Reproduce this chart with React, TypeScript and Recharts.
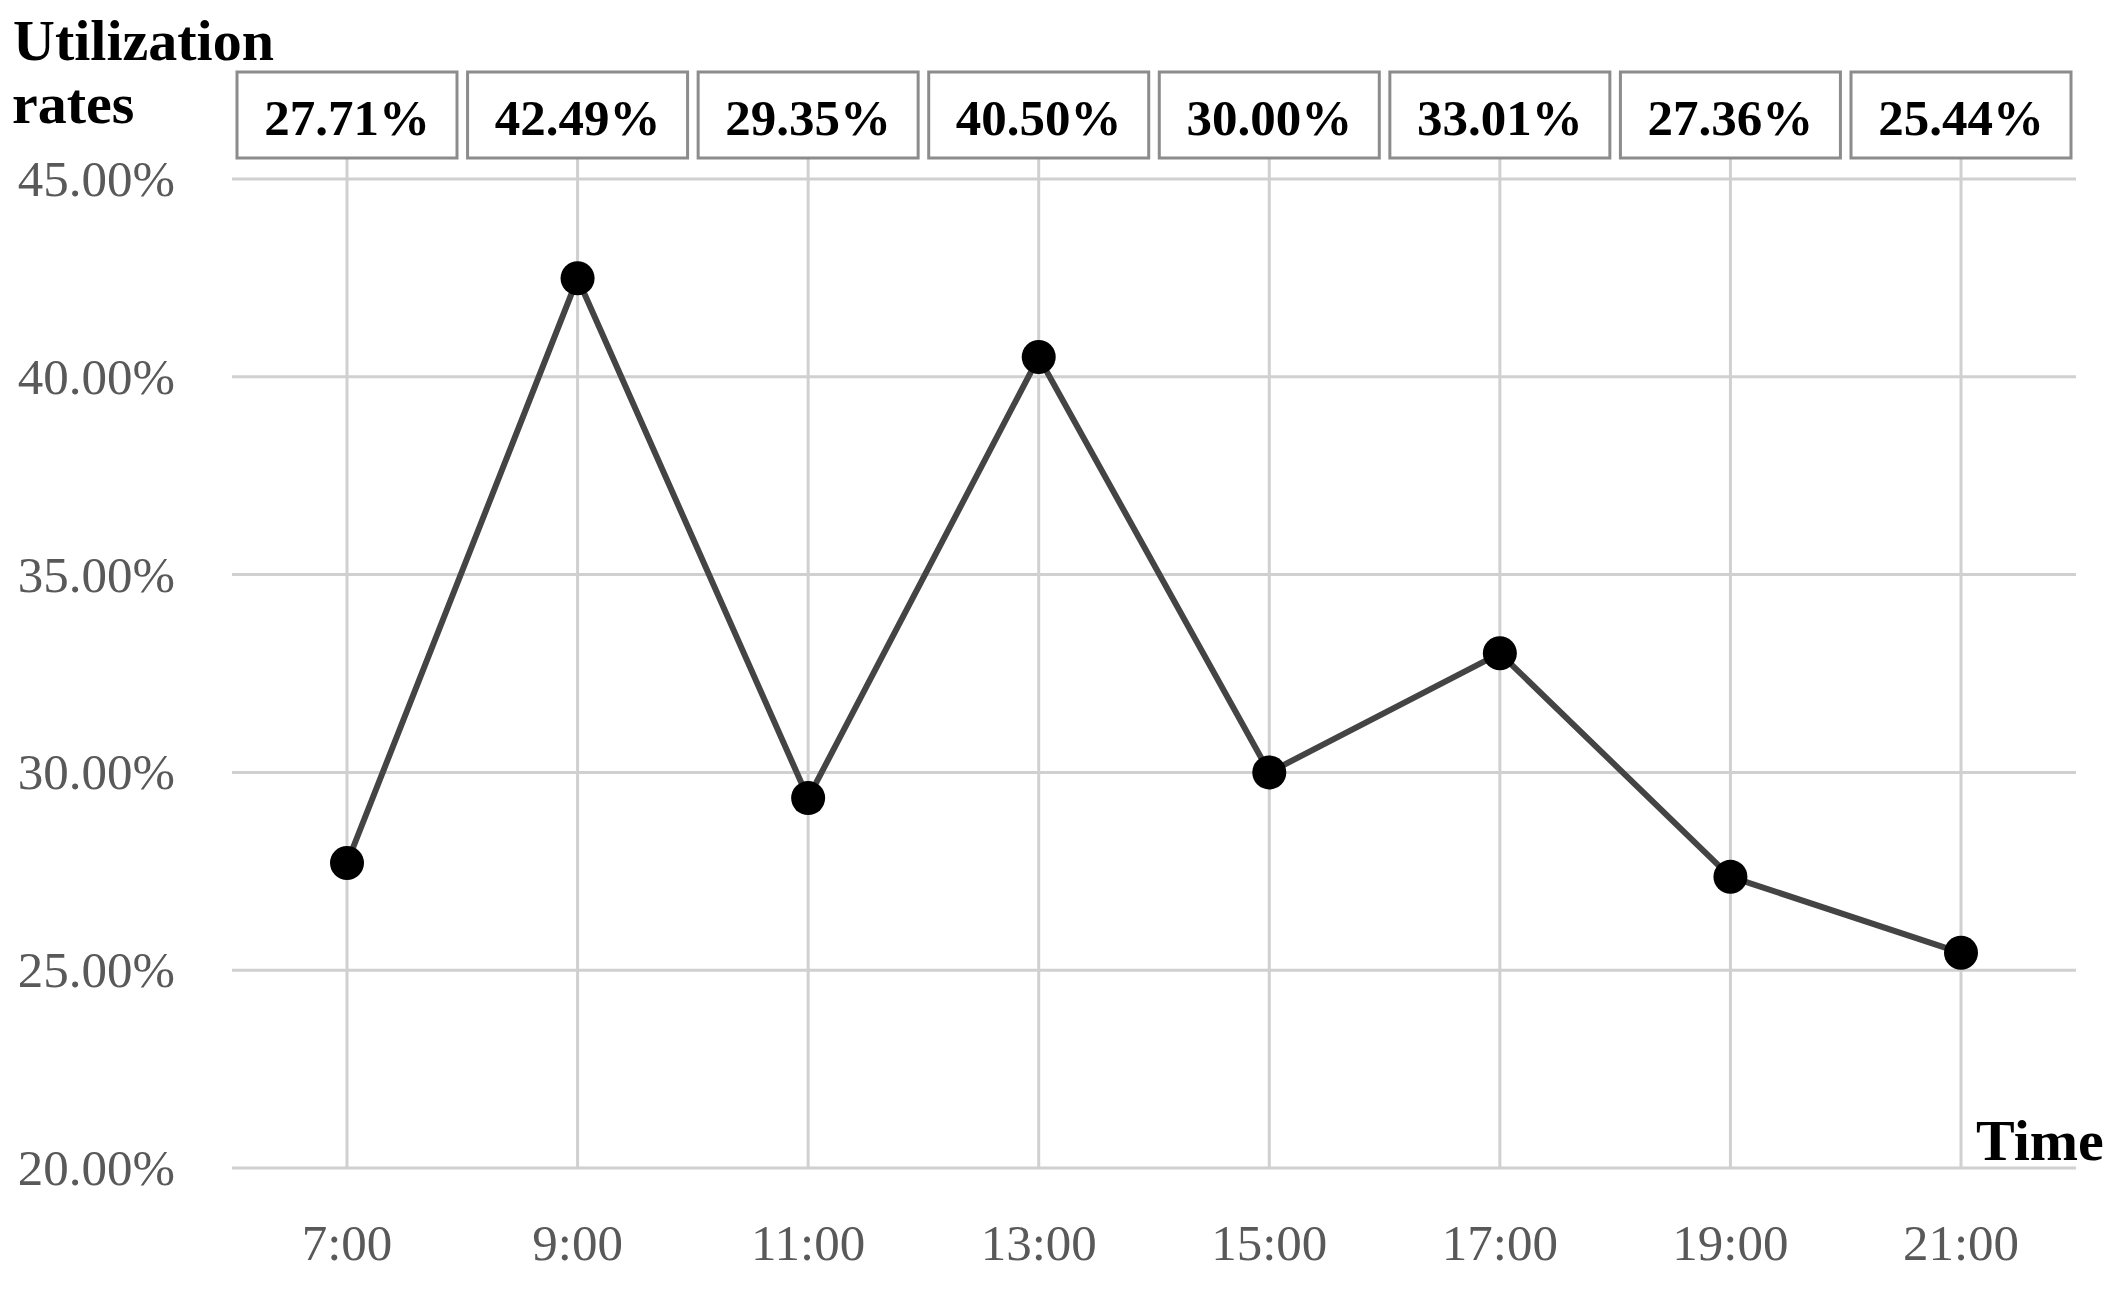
import React from 'react';
import { LineChart, Line, XAxis, YAxis, CartesianGrid } from 'recharts';

const times = ['7:00', '9:00', '11:00', '13:00', '15:00', '17:00', '19:00', '21:00'];
const rates = [27.71, 42.49, 29.35, 40.5, 30.0, 33.01, 27.36, 25.44];
const yTicks = [20, 25, 30, 35, 40, 45];

const data = times.map((t, i) => ({ time: t, rate: rates[i] }));

const FONT = '"Liberation Serif", "Times New Roman", serif';

const TopTick = (props: any) => {
  const { x, y, payload } = props;
  const idx = payload?.index ?? props.index ?? 0;
  const v = rates[idx];
  return (
    <g>
      <rect x={x - 110} y={y - 86} width={220} height={86} fill="#fff" stroke="#8c8c8c" strokeWidth={3} />
      <text x={x} y={y - 23} textAnchor="middle" fontFamily={FONT} fontWeight="bold" fontSize={51} fill="#000">
        {v.toFixed(2)}%
      </text>
    </g>
  );
};

const BottomTick = (props: any) => {
  const { x, y, payload } = props;
  return (
    <text x={x} y={y + 92} textAnchor="middle" fontFamily={FONT} fontSize={51} fill="#595959">
      {payload.value}
    </text>
  );
};

const LeftTick = (props: any) => {
  const { x, y, payload } = props;
  return (
    <text x={x - 57} y={y + 17} textAnchor="end" fontFamily={FONT} fontSize={51} fill="#595959">
      {Number(payload.value).toFixed(2)}%
    </text>
  );
};

export default function App() {
  return (
    <div style={{ position: 'absolute', left: 0, top: 0, width: 2118, height: 1292, background: '#fff' }}>
      <LineChart width={2118} height={1292} data={data} margin={{ top: 0, right: 42, bottom: 0, left: 0 }}>
        <CartesianGrid stroke="#d0d0d0" strokeWidth={3} syncWithTicks />
        <XAxis
          dataKey="time"
          xAxisId={0}
          height={124}
          padding={{ left: 115, right: 115 }}
          axisLine={false}
          tickLine={false}
          tickSize={0}
          tickMargin={0}
          tick={<BottomTick />}
          interval={0}
        />
        <XAxis
          dataKey="time"
          xAxisId="top"
          orientation="top"
          height={179}
          padding={{ left: 115, right: 115 }}
          axisLine={false}
          tickLine={{ stroke: '#d0d0d0', strokeWidth: 3 }}
          tickSize={21}
          tickMargin={0}
          tick={<TopTick />}
          interval={0}
        />
        <YAxis
          width={232}
          domain={[20, 45]}
          ticks={yTicks}
          axisLine={false}
          tickLine={false}
          tickSize={0}
          tickMargin={0}
          tick={<LeftTick />}
          interval={0}
        />
        <Line
          dataKey="rate"
          xAxisId={0}
          stroke="#444444"
          strokeWidth={6}
          dot={{ r: 17, fill: '#000', stroke: 'none' }}
          activeDot={false}
          isAnimationActive={false}
        />
      </LineChart>
      <svg width={2118} height={1292} style={{ position: 'absolute', left: 0, top: 0, pointerEvents: 'none' }}>
        <text x={13} y={60} fontFamily={FONT} fontWeight="bold" fontSize={58} fill="#000">Utilization</text>
        <text x={12} y={123} fontFamily={FONT} fontWeight="bold" fontSize={58} fill="#000">rates</text>
        <text x={1976} y={1160} fontFamily={FONT} fontWeight="bold" fontSize={58} fill="#000">Time</text>
      </svg>
    </div>
  );
}
